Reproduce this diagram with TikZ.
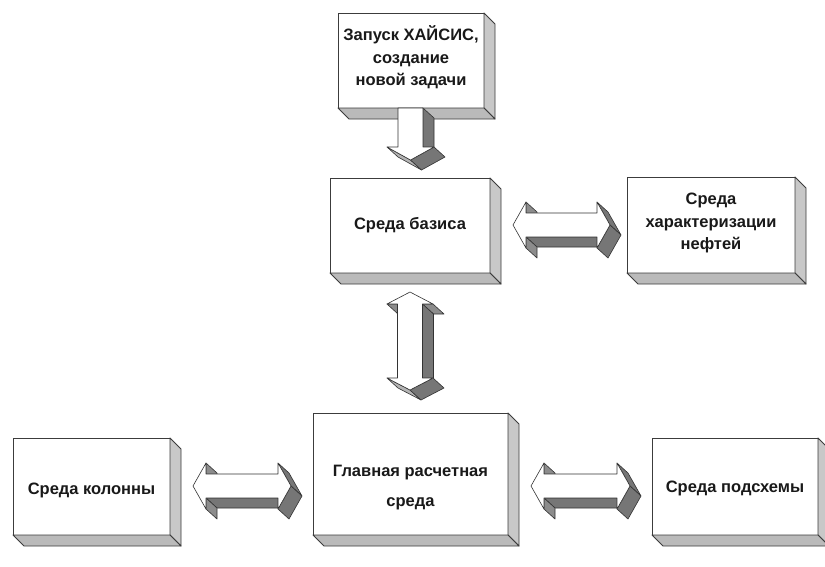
\documentclass[tikz,border=0pt]{standalone}
\usepackage{fontspec}
\setmainfont{Liberation Sans}
\usetikzlibrary{calc}
\definecolor{bsidec}{RGB}{200,200,200}
\definecolor{bbotc}{RGB}{186,186,186}
\definecolor{adark}{RGB}{118,118,118}
\definecolor{amid}{RGB}{140,140,140}
\definecolor{alight}{RGB}{180,180,180}
\definecolor{txt}{RGB}{25,25,25}
\definecolor{edgec}{RGB}{60,60,60}
\tikzset{
  box3d/.style={draw=edgec, line width=0.9pt, fill=white, rectangle, inner sep=0pt, outer sep=0pt},
  bside/.style={draw=edgec, line width=0.9pt, fill=bsidec, line join=round},
  bbottom/.style={draw=edgec, line width=0.9pt, fill=bbotc, line join=round},
  aface/.style={draw=black!80, line width=0.6pt, line join=round},
  afront/.style={draw=black!80, line width=0.6pt, fill=white, line join=round},
  btext/.style={font=\fontsize{16.5}{22.5}\selectfont\bfseries, text=txt, align=center, inner sep=0pt},
}
% side face of an extruded arrow: edge (#1)-(#2), pushed back by (ad)
\newcommand\sface[3]{\filldraw[aface,fill=#3] (#1) -- (#2) -- ($(#2)+(ad)$) -- ($(#1)+(ad)$) -- cycle;}
% 3D sides of a box node
\newcommand\boxsides[1]{%
  \filldraw[bside] (#1.north east) -- ($(#1.north east)+(bd)$) -- ($(#1.south east)+(bd)$) -- (#1.south east) -- cycle;
  \filldraw[bbottom] (#1.south west) -- (#1.south east) -- ($(#1.south east)+(bd)$) -- ($(#1.south west)+(bd)$) -- cycle;}
% horizontal double block arrow: prefix, left tip x, right tip x, centre y
\newcommand\harrow[4]{%
  \coordinate (#1lt)  at (#2,#4);
  \coordinate (#1luh) at ({#2+13},{#4-23});
  \coordinate (#1lus) at ({#2+13},{#4-12});
  \coordinate (#1rus) at ({#3-13},{#4-12});
  \coordinate (#1ruh) at ({#3-13},{#4-23});
  \coordinate (#1rt)  at (#3,#4);
  \coordinate (#1rlh) at ({#3-13},{#4+23});
  \coordinate (#1rls) at ({#3-13},{#4+12});
  \coordinate (#1lls) at ({#2+13},{#4+12});
  \coordinate (#1llh) at ({#2+13},{#4+23});
  \sface{#1luh}{#1lus}{amid}
  \sface{#1rls}{#1lls}{adark}
  \sface{#1lls}{#1llh}{amid}
  \sface{#1ruh}{#1rt}{adark}
  \sface{#1rt}{#1rlh}{adark}
  \filldraw[afront] (#1lt) -- (#1luh) -- (#1lus) -- (#1rus) -- (#1ruh) -- (#1rt) -- (#1rlh) -- (#1rls) -- (#1lls) -- (#1llh) -- cycle;}
\begin{document}
\begin{tikzpicture}[x=1pt,y=-1pt]
\useasboundingbox (0,0) rectangle (825,566);
\fill[white] (0,0) rectangle (825,566);
\coordinate (ad) at (11,10);
\coordinate (bd) at (11,11);

% boxes
\node[box3d, minimum width=146pt, minimum height=95pt] (b1) at (411,60.5) {};
\node[box3d, minimum width=160pt, minimum height=95pt] (b2) at (410,225.5) {};
\node[box3d, minimum width=168pt, minimum height=96pt] (b3) at (711,225) {};
\node[box3d, minimum width=195pt, minimum height=122pt] (b4) at (410.5,474) {};
\node[box3d, minimum width=157pt, minimum height=97pt] (b5) at (91.5,486.5) {};
\node[box3d, minimum width=166pt, minimum height=97pt] (b6) at (735,486.5) {};
\boxsides{b1}
\boxsides{b2}
\boxsides{b3}
\boxsides{b4}
\boxsides{b5}
\boxsides{b6}

% texts
\node[btext] (t1) at ([yshift=3pt]b1.center) {Запуск ХАЙСИС,\\создание\\новой задачи};
\node[btext] (t2) at (b2.center) {Среда базиса};
\node[btext] (t3) at ([yshift=2pt]b3.center) {Среда\\характеризации\\нефтей};
\node[btext] (t4) at ([yshift=-14pt]b4.center) {Главная расчетная\\[7.5pt]среда};
\node[btext] (t5) at ([yshift=-4pt]b5.center) {Среда колонны};
\node[btext] (t6) at ([yshift=-1.5pt]b6.center) {Среда подсхемы};

% down arrow from b1 to b2
\coordinate (d1) at (398,108);
\coordinate (d2) at (423,108);
\coordinate (d3) at (423,147);
\coordinate (d4) at (434,147);
\coordinate (d5) at (410.5,160);
\coordinate (d6) at (387,147);
\coordinate (d7) at (398,147);
\sface{d2}{d3}{adark}
\sface{d5}{d6}{alight}
\sface{d4}{d5}{adark}
\filldraw[afront] (d1) -- (d2) -- (d3) -- (d4) -- (d5) -- (d6) -- (d7) -- cycle;

% vertical double arrow b2 <-> b4
\coordinate (v1) at (410,292);
\coordinate (v2) at (433,304);
\coordinate (v3) at (422.5,304);
\coordinate (v4) at (422.5,378);
\coordinate (v5) at (433,378);
\coordinate (v6) at (410,390);
\coordinate (v7) at (387,378);
\coordinate (v8) at (397.5,378);
\coordinate (v9) at (397.5,304);
\coordinate (v10) at (387,304);
\sface{v9}{v10}{amid}
\sface{v2}{v3}{amid}
\sface{v3}{v4}{adark}
\sface{v6}{v7}{alight}
\sface{v5}{v6}{adark}
\filldraw[afront] (v1) -- (v2) -- (v3) -- (v4) -- (v5) -- (v6) -- (v7) -- (v8) -- (v9) -- (v10) -- cycle;

% horizontal double arrows
\harrow{ha}{513}{610}{225}
\harrow{hb}{193}{291}{486}
\harrow{hc}{531}{630}{486}
\end{tikzpicture}
\end{document}
